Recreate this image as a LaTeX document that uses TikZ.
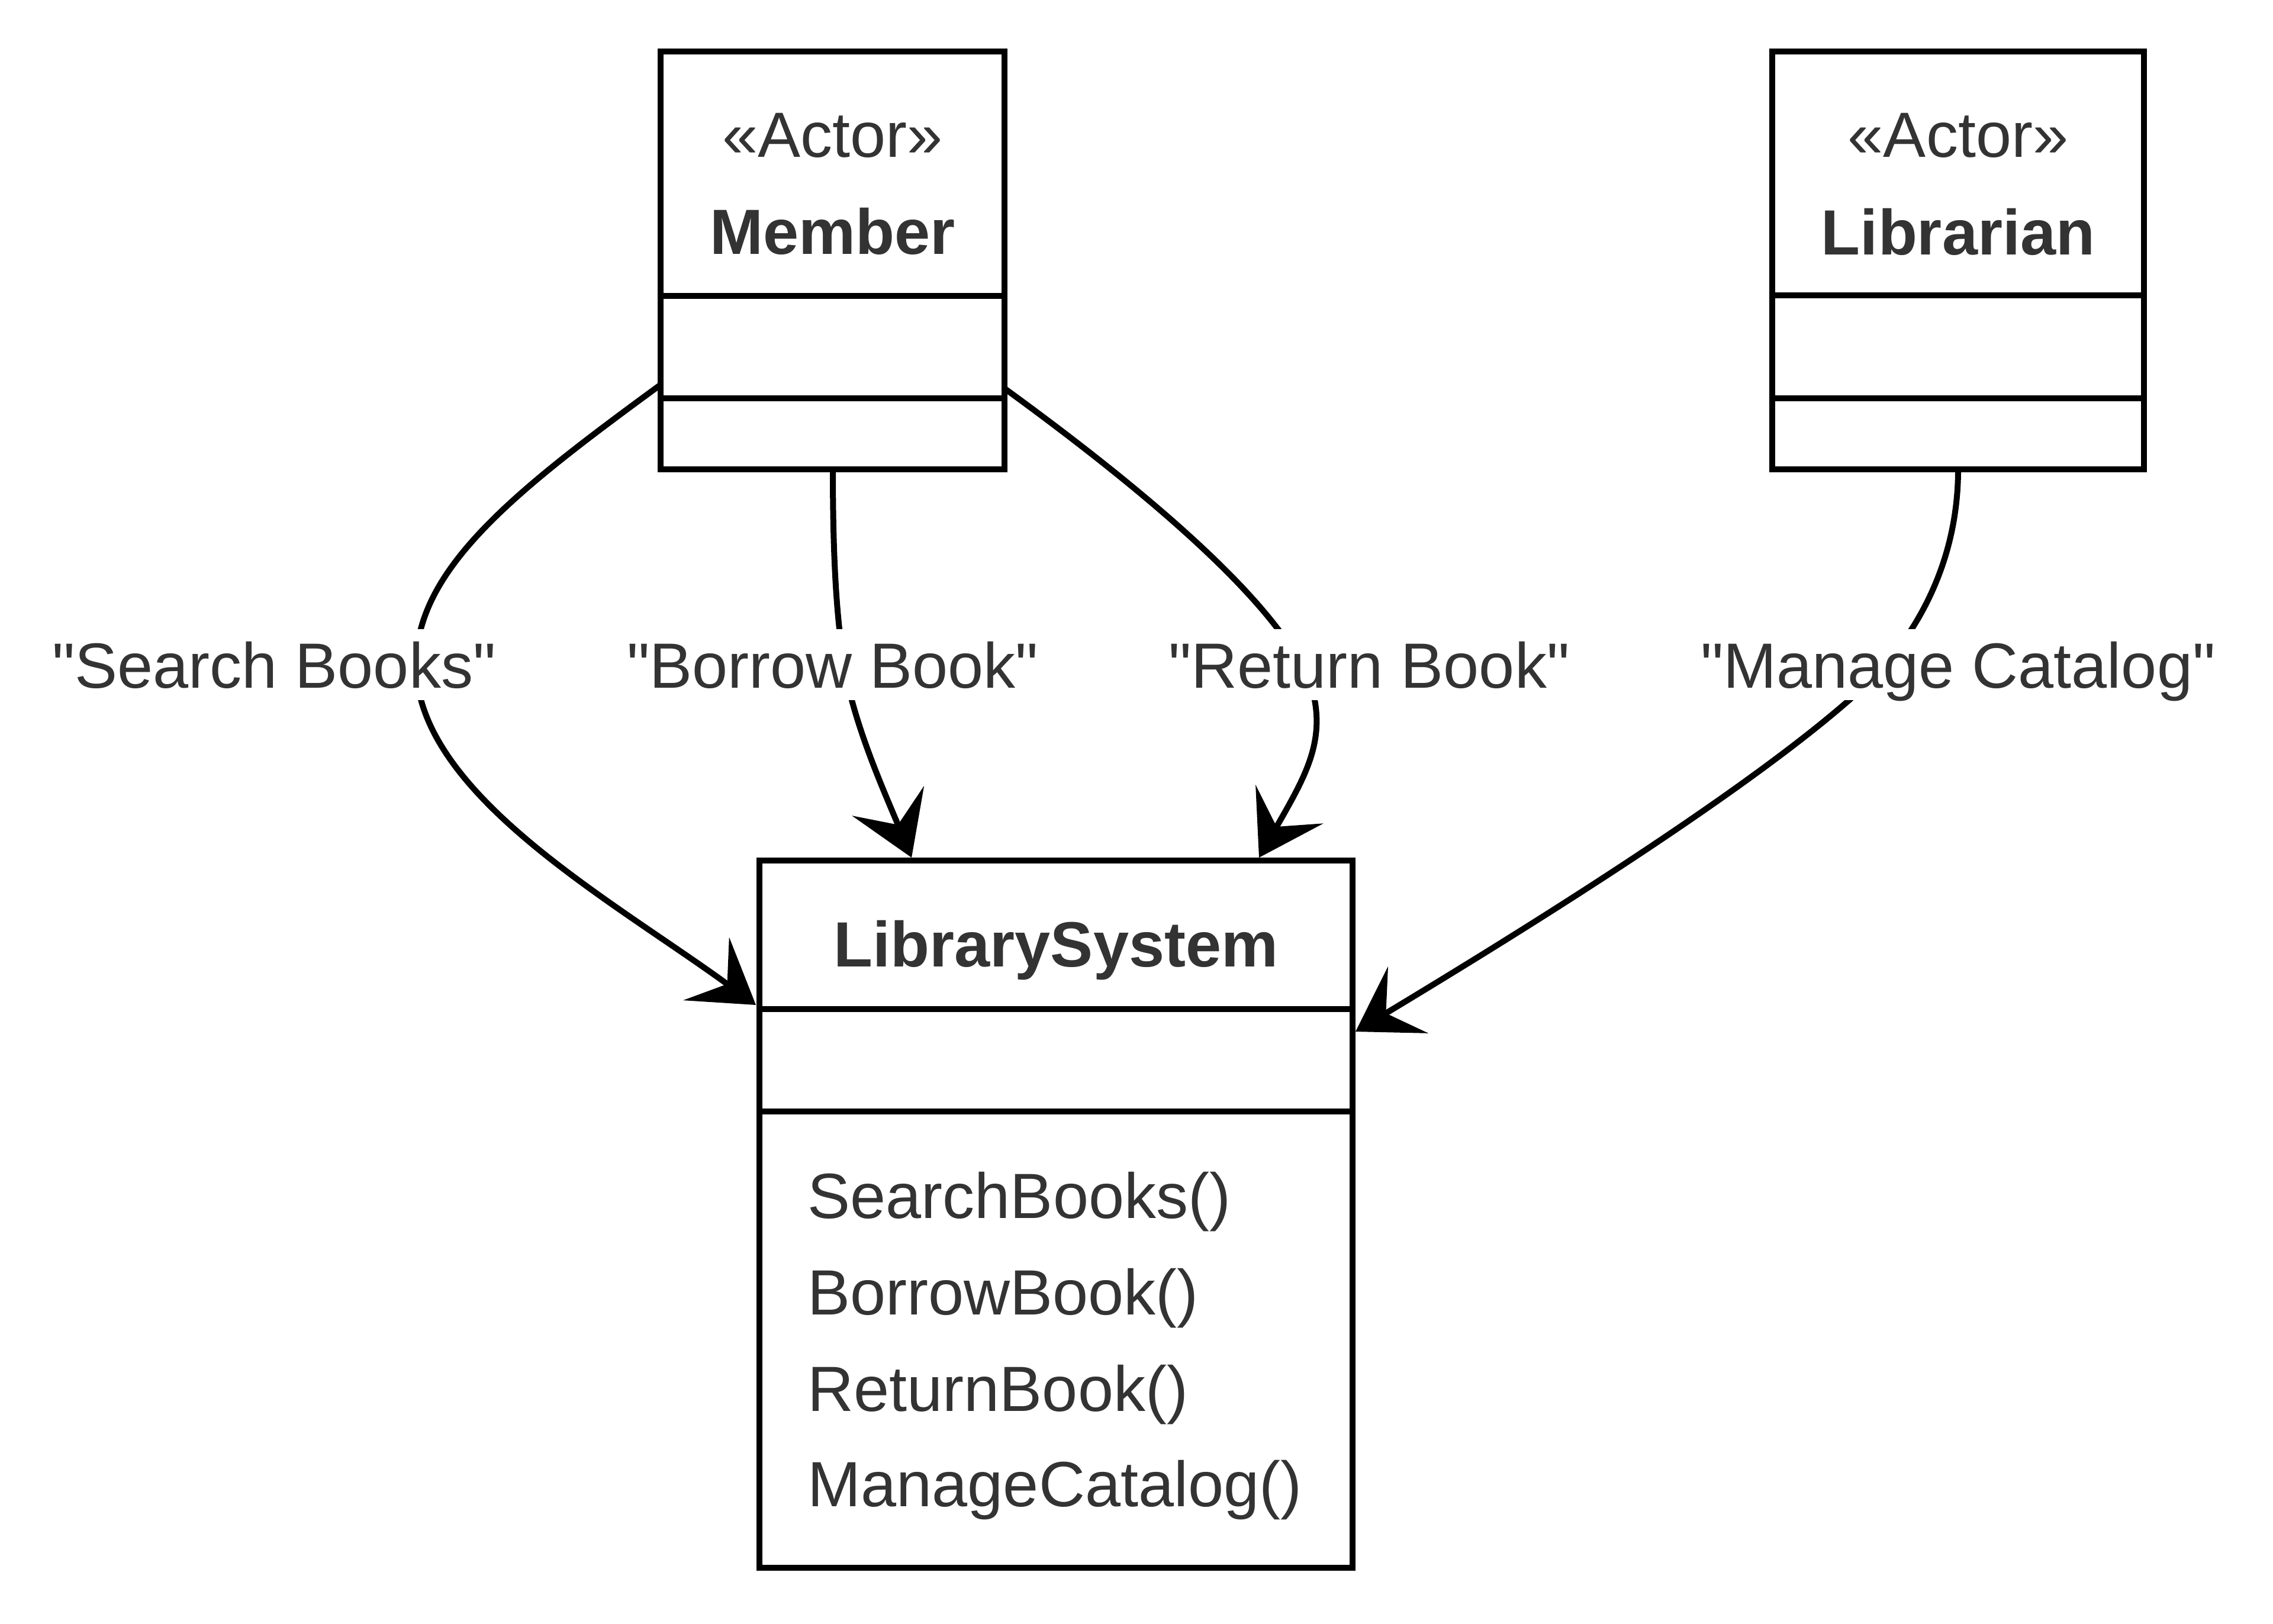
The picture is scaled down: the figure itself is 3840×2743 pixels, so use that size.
\documentclass[tikz,border=0pt]{standalone}
\usepackage{fontspec}
\setmainfont{Liberation Sans}
\newfontfamily\lsans{Liberation Sans}
\usetikzlibrary{arrows.meta}
\definecolor{txt}{HTML}{333333}
\begin{document}
\begin{tikzpicture}[x=0.25pt,y=-0.25pt,
  box/.style={draw=black, line width=2.5pt, rectangle, inner sep=0pt, fill=white},
  divider/.style={draw=black, line width=2.5pt},
  lbl/.style={font=\lsans\fontsize{27}{32}\selectfont, text=txt, inner sep=0pt},
  ttl/.style={font=\lsans\fontsize{27}{32}\selectfont\bfseries, text=txt, inner sep=0pt},
  edgelabel/.style={lbl, fill=white, text height=24.75pt, text depth=5.25pt, anchor=base},
  rel/.style={line width=2.5pt, draw=black, -{Stealth[length=26pt,width=33pt,inset=11pt,line width=0pt]}}
]
\fill[white] (0,0) rectangle (3840,2743);
\useasboundingbox (0,0) rectangle (3840,2743);

% class boxes
\node[box, minimum width=145.25pt, minimum height=176.5pt] (member) at (1406.5,440) {};
\draw[divider] (member.west |- 0,500) -- (member.east |- 0,500);
\draw[divider] (member.west |- 0,673) -- (member.east |- 0,673);
\node[lbl, anchor=base] (mstereo) at (1406.5,265) {«Actor»};
\node[ttl, anchor=base] (mname) at (1406.5,429) {Member};

\node[box, minimum width=157pt, minimum height=176.5pt] (librarian) at (3308,440) {};
\draw[divider] (librarian.west |- 0,499) -- (librarian.east |- 0,499);
\draw[divider] (librarian.west |- 0,673) -- (librarian.east |- 0,673);
\node[lbl, anchor=base] (lstereo) at (3308,265) {«Actor»};
\node[ttl, anchor=base] (lname) at (3308,430) {Librarian};

\node[box, minimum width=250.5pt, minimum height=298.75pt] (system) at (1784,2051.5) {};
\draw[divider] (system.west |- 0,1705) -- (system.east |- 0,1705);
\draw[divider] (system.west |- 0,1878) -- (system.east |- 0,1878);
\node[ttl, anchor=base] (sname) at (1784,1633) {LibrarySystem};
\node[lbl, anchor=base west] (op1) at (1364,2058) {SearchBooks()};
\node[lbl, anchor=base west] (op2) at (1364,2221) {BorrowBook()};
\node[lbl, anchor=base west] (op3) at (1364,2384) {ReturnBook()};
\node[lbl, anchor=base west] (op4) at (1364,2545) {ManageCatalog()};

% connector end points
\coordinate (searchA) at (1116,650);
\coordinate (searchB) at (1277,1698);
\coordinate (borrowA) at (1407,793);
\coordinate (borrowB) at (1540,1449);
\coordinate (returnA) at (1698,657);
\coordinate (returnB) at (2127,1449);
\coordinate (manageA) at (3308,793);
\coordinate (manageB) at (2290,1743);

% connectors
\draw[rel] (searchA) .. controls (874,827) and (703,960) .. (703,1123)
  .. controls (703,1340) and (1034,1521) .. (searchB);
\draw[rel] (borrowA) .. controls (1407,950) and (1413.5,1044) .. (1426,1123)
  .. controls (1441.6,1222) and (1494,1338) .. (borrowB);
\draw[rel] (returnA) .. controls (1900,804) and (2194,1036) .. (2221,1183)
  .. controls (2235.4,1261) and (2201,1319) .. (returnB);
\draw[rel] (manageA) .. controls (3308,943) and (3244,1065) .. (3160,1150)
  .. controls (2980,1322.5) and (2547,1588) .. (manageB);

% connector labels
\node[edgelabel] (lsearch) at (463,1162) {"Search Books"};
\node[edgelabel] (lborrow) at (1406.5,1162) {"Borrow Book"};
\node[edgelabel] (lreturn) at (2313,1162) {"Return Book"};
\node[edgelabel] (lmanage) at (3308,1162) {"Manage Catalog"};
\end{tikzpicture}
\end{document}
